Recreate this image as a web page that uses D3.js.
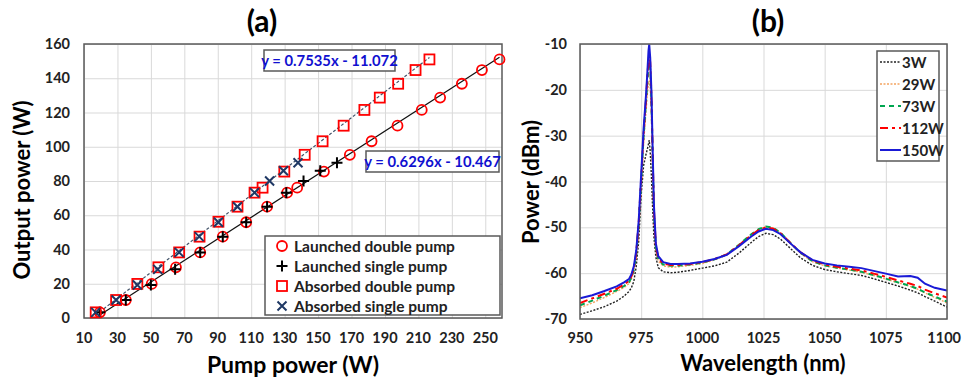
<!DOCTYPE html>
<html>
<head>
<meta charset="utf-8">
<script src="https://cdn.jsdelivr.net/npm/d3@7"></script>
<style>
  body { margin: 0; background: #fff; }
  svg text { font-family: Lato, "Open Sans", sans-serif; font-weight: bold; }
</style>
</head>
<body>
<div id="chart"></div>
<script>
// ---- panel (a): output power vs pump power ----
var pumpTicks = [10, 30, 50, 70, 90, 110, 130, 150, 170, 190, 210, 230, 250];
var outputTicks = [0, 20, 40, 60, 80, 100, 120, 140, 160];

var launchedDoubleX = [19.5, 35, 50.5, 65, 79.5, 93, 107, 119.5, 131.5, 137.5, 153.5, 169, 182, 197.5, 212, 223, 236, 248, 258.5];
var launchedDoubleY = [3.3, 10.5, 19.9, 29.6, 38.3, 47.5, 55.9, 65, 73.2, 76.1, 85.5, 95.3, 103.2, 112.3, 121.5, 128.7, 136.8, 144.8, 151];
var launchedSingleX = [19.5, 35, 50, 64.5, 79.5, 93, 107, 119.5, 131, 141.3, 151.3, 161.3];
var launchedSingleY = [3.3, 10.5, 19.3, 28.4, 38.3, 47.5, 55.9, 65, 73.2, 80, 86, 90.7];
var absorbedDoubleX = [17, 29.2, 41.9, 54.5, 66.9, 79.1, 90.4, 101.8, 112, 116.8, 129.8, 142, 152.7, 165.3, 177.7, 186.9, 197.9, 208.3, 216.6];
var absorbedDoubleY = [3.3, 10.5, 19.9, 29.6, 38.3, 47.5, 56.2, 65, 73.2, 76.1, 85.5, 95.3, 103.2, 112.3, 121.5, 128.7, 136.8, 144.8, 151];
var absorbedSingleX = [17, 29.2, 41.9, 54.1, 66.9, 78.9, 90.4, 101.8, 112, 121, 129.3, 138];
var absorbedSingleY = [3.3, 10.5, 19.3, 28.4, 38.3, 47.5, 55.9, 65, 73.2, 80, 86, 90.7];

var fitLaunched = { slope: 0.6296, intercept: -10.467 };
var fitAbsorbed = { slope: 0.7535, intercept: -11.072 };

var legendA = ['Launched double pump', 'Launched single pump', 'Absorbed double pump', 'Absorbed single pump'];

// ---- panel (b): spectra ----
var wavelengthTicks = [950, 975, 1000, 1025, 1050, 1075, 1100];
var dbmTicks = [-70, -60, -50, -40, -30, -20, -10];

var wavelength = [950, 955, 960, 965, 968, 970, 971, 972, 973, 974, 975, 976, 977, 977.5, 978, 978.3, 978.7, 979.2, 979.7, 980.2,
  981, 982, 984, 987, 990, 995, 1000, 1005, 1010, 1015, 1020, 1023, 1026, 1029, 1032, 1036, 1040, 1045, 1050, 1055,
  1060, 1065, 1070, 1075, 1080, 1085, 1088, 1091, 1095, 1100];

var spec3W = [-69.0, -68.2, -67.3, -66.1, -65.0, -64.0, -63.2, -61.8, -58.5, -53.0, -43.0, -36.5, -34.0, -33.0, -31.8, -31.0, -33.5, -39.0, -46.0, -52.0,
  -56.5, -58.8, -59.7, -59.9, -59.8, -59.4, -58.9, -58.4, -57.6, -55.6, -53.3, -52.0, -51.3, -51.6, -52.6, -54.6, -56.6, -58.3, -59.2, -59.7,
  -60.1, -60.5, -61.2, -62.0, -62.8, -63.7, -64.3, -65.1, -66.1, -67.4];
var spec29W = [-67.5, -66.5, -65.3, -64.0, -63.1, -62.3, -61.3, -59.6, -56.5, -50.0, -41.0, -31.5, -24.5, -21.0, -18.5, -18.0, -19.5, -25.5, -37.0, -47.5,
  -54.8, -57.4, -58.4, -58.7, -58.6, -58.3, -57.9, -57.1, -56.0, -53.9, -51.6, -50.5, -49.9, -50.2, -51.3, -53.5, -55.6, -57.5, -58.4, -58.9,
  -59.3, -59.8, -60.5, -61.3, -62.1, -62.9, -63.5, -64.3, -65.3, -66.5];
var spec73W = [-67.0, -66.0, -64.9, -63.7, -62.8, -62.0, -61.0, -59.3, -56.0, -49.5, -40.0, -30.0, -22.5, -18.5, -14.5, -14.0, -15.5, -22.5, -35.0, -46.5,
  -54.3, -57.0, -58.1, -58.4, -58.4, -58.1, -57.7, -57.0, -55.9, -53.8, -51.5, -50.4, -49.8, -50.1, -51.2, -53.4, -55.5, -57.4, -58.3, -58.8,
  -59.2, -59.7, -60.4, -61.2, -62.0, -62.8, -63.4, -64.2, -65.1, -66.2];
var spec112W = [-66.5, -65.5, -64.5, -63.4, -62.5, -61.7, -60.7, -59.0, -55.5, -49.0, -39.5, -29.5, -22.0, -17.5, -13.5, -12.5, -14.0, -21.5, -34.0, -46.0,
  -54.0, -56.8, -57.9, -58.2, -58.2, -58.0, -57.6, -56.9, -55.9, -53.9, -51.7, -50.6, -50.0, -50.3, -51.3, -53.4, -55.4, -57.2, -58.1, -58.6,
  -59.0, -59.4, -60.1, -60.8, -61.6, -62.3, -62.8, -63.6, -64.4, -65.3];
var spec150W = [-65.5, -64.8, -63.9, -62.9, -62.0, -61.3, -60.3, -58.5, -55.0, -48.5, -38.5, -28.5, -21.0, -16.5, -11.5, -10.1, -13.0, -20.5, -33.0, -45.0,
  -53.5, -56.3, -57.6, -58.0, -58.0, -57.9, -57.5, -56.9, -56.0, -54.1, -52.0, -50.9, -50.3, -50.6, -51.5, -53.5, -55.4, -57.1, -57.9, -58.3,
  -58.6, -58.9, -59.5, -60.1, -60.7, -60.6, -61.0, -62.3, -63.2, -63.8];

var spectraNames = ['3W', '29W', '73W', '112W', '150W'];

var svg = d3.select('#chart')
  .append('svg')
  .attr('width', 962)
  .attr('height', 379);

var gridColor = '#d9d9d9';
var frameColor = '#595959';

// ================= panel (a) =================
var xA = d3.scaleLinear().domain([10, 260]).range([84, 502]);
var yA = d3.scaleLinear().domain([0, 160]).range([318, 44]);

var gA = svg.append('g');

gA.append('g')
  .call(d3.axisBottom(xA).tickValues(pumpTicks).tickSize(-(318 - 44)).tickFormat(''))
  .attr('transform', 'translate(0,318)')
  .call(function (g) {
    g.select('.domain').remove();
    g.selectAll('line').attr('stroke', gridColor);
  });

gA.append('g')
  .call(d3.axisLeft(yA).tickValues(outputTicks).tickSize(-(502 - 84)).tickFormat(''))
  .attr('transform', 'translate(84,0)')
  .call(function (g) {
    g.select('.domain').remove();
    g.selectAll('line').attr('stroke', gridColor);
  });

gA.append('rect')
  .attr('x', 84).attr('y', 44)
  .attr('width', 502 - 84).attr('height', 318 - 44)
  .attr('fill', 'none')
  .attr('stroke', frameColor)
  .attr('stroke-width', 1.5);

gA.selectAll('.xlab')
  .data(pumpTicks)
  .enter()
  .append('text')
  .attr('x', function (d) { return xA(d); })
  .attr('y', 343)
  .attr('text-anchor', 'middle')
  .attr('font-size', 14.5)
  .attr('fill', '#222')
  .text(function (d) { return d; });

gA.selectAll('.ylab')
  .data(outputTicks)
  .enter()
  .append('text')
  .attr('x', 70)
  .attr('y', function (d) { return yA(d) + 5; })
  .attr('text-anchor', 'end')
  .attr('font-size', 14.5)
  .attr('fill', '#222')
  .text(function (d) { return d; });

gA.append('text')
  .attr('x', 262).attr('y', 32)
  .attr('text-anchor', 'middle')
  .attr('font-size', 30)
  .text('(a)');

gA.append('text')
  .attr('transform', 'translate(30,190) rotate(-90)')
  .attr('text-anchor', 'middle')
  .attr('font-size', 22)
  .text('Output power (W)');

gA.append('text')
  .attr('x', 293).attr('y', 373)
  .attr('text-anchor', 'middle')
  .attr('font-size', 23)
  .text('Pump power (W)');

// fit lines
var fitLine = function (fit, xs) {
  var ext = d3.extent(xs);
  return [[ext[0], fit.slope * ext[0] + fit.intercept], [ext[1], fit.slope * ext[1] + fit.intercept]];
};
var lineA = d3.line()
  .x(function (d) { return xA(d[0]); })
  .y(function (d) { return yA(d[1]); });

gA.append('path')
  .attr('d', lineA(fitLine(fitLaunched, launchedDoubleX)))
  .attr('stroke', '#111')
  .attr('stroke-width', 1.2)
  .attr('fill', 'none');

gA.append('path')
  .attr('d', lineA(fitLine(fitAbsorbed, absorbedDoubleX)))
  .attr('stroke', '#44546a')
  .attr('stroke-width', 1.2)
  .attr('stroke-dasharray', '3,2')
  .attr('fill', 'none');

var zip = function (xs, ys) {
  return xs.map(function (x, i) { return [x, ys[i]]; });
};

var drawCircle = function (g, x, y) {
  g.append('circle').attr('cx', x).attr('cy', y).attr('r', 5)
    .attr('fill', 'none').attr('stroke', '#ff0000').attr('stroke-width', 1.8);
};
var drawPlus = function (g, x, y) {
  g.append('path').attr('d', 'M' + (x - 5.5) + ',' + y + 'H' + (x + 5.5) + 'M' + x + ',' + (y - 5.5) + 'V' + (y + 5.5))
    .attr('stroke', '#000').attr('stroke-width', 2);
};
var drawSquare = function (g, x, y) {
  g.append('rect').attr('x', x - 5).attr('y', y - 5).attr('width', 10).attr('height', 10)
    .attr('fill', 'none').attr('stroke', '#ff0000').attr('stroke-width', 1.8);
};
var drawCross = function (g, x, y) {
  g.append('path').attr('d', 'M' + (x - 4.5) + ',' + (y - 4.5) + 'L' + (x + 4.5) + ',' + (y + 4.5) + 'M' + (x - 4.5) + ',' + (y + 4.5) + 'L' + (x + 4.5) + ',' + (y - 4.5))
    .attr('stroke', '#1f3864').attr('stroke-width', 2);
};

var seriesA = [
  { pts: zip(launchedDoubleX, launchedDoubleY), draw: drawCircle },
  { pts: zip(launchedSingleX, launchedSingleY), draw: drawPlus },
  { pts: zip(absorbedDoubleX, absorbedDoubleY), draw: drawSquare },
  { pts: zip(absorbedSingleX, absorbedSingleY), draw: drawCross }
];

seriesA.forEach(function (s) {
  var g = gA.append('g');
  s.pts.forEach(function (p) {
    s.draw(g, xA(p[0]), yA(p[1]));
  });
});

// equation boxes
var eqBox = function (x, y, w, txt) {
  gA.append('rect').attr('x', x).attr('y', y).attr('width', w).attr('height', 21)
    .attr('fill', '#fff').attr('stroke', frameColor).attr('stroke-width', 1.5);
  gA.append('text').attr('x', x + w / 2).attr('y', y + 15.5)
    .attr('text-anchor', 'middle').attr('font-size', 14.8).attr('fill', '#1010d0')
    .text(txt);
};
eqBox(264, 50, 131, 'y = ' + fitAbsorbed.slope + 'x - ' + Math.abs(fitAbsorbed.intercept));
eqBox(366, 151, 133, 'y = ' + fitLaunched.slope + 'x - ' + Math.abs(fitLaunched.intercept));

// legend (a)
var legA = gA.append('g');
legA.append('rect').attr('x', 265).attr('y', 236).attr('width', 235).attr('height', 79)
  .attr('fill', '#fff').attr('stroke', frameColor).attr('stroke-width', 1.5);
legendA.forEach(function (name, i) {
  var yy = 246 + i * 20;
  seriesA[i].draw(legA, 282, yy);
  legA.append('text').attr('x', 294).attr('y', yy + 5.5)
    .attr('font-size', 15.5).attr('fill', '#222').text(name);
});

// ================= panel (b) =================
var xB = d3.scaleLinear().domain([950, 1100]).range([580, 947]);
var yB = d3.scaleLinear().domain([-70, -10]).range([319, 44]);

var gB = svg.append('g');

gB.append('g')
  .call(d3.axisBottom(xB).tickValues(wavelengthTicks).tickSize(-(319 - 44)).tickFormat(''))
  .attr('transform', 'translate(0,319)')
  .call(function (g) {
    g.select('.domain').remove();
    g.selectAll('line').attr('stroke', gridColor);
  });

gB.append('g')
  .call(d3.axisLeft(yB).tickValues(dbmTicks).tickSize(-(947 - 580)).tickFormat(''))
  .attr('transform', 'translate(580,0)')
  .call(function (g) {
    g.select('.domain').remove();
    g.selectAll('line').attr('stroke', gridColor);
  });

var lastWl = wavelengthTicks[wavelengthTicks.length - 1];
gB.selectAll('.xlab')
  .data(wavelengthTicks)
  .enter()
  .append('text')
  .attr('x', function (d) { return d === lastWl ? 961 : xB(d); })
  .attr('y', 343)
  .attr('text-anchor', function (d) { return d === lastWl ? 'end' : 'middle'; })
  .attr('font-size', 14.5)
  .attr('fill', '#222')
  .text(function (d) { return d; });

gB.selectAll('.ylab')
  .data(dbmTicks)
  .enter()
  .append('text')
  .attr('x', 567)
  .attr('y', function (d) { return yB(d) + 5; })
  .attr('text-anchor', 'end')
  .attr('font-size', 14.5)
  .attr('fill', '#222')
  .text(function (d) { return d; });

gB.append('text')
  .attr('x', 768).attr('y', 32)
  .attr('text-anchor', 'middle')
  .attr('font-size', 30)
  .text('(b)');

gB.append('text')
  .attr('transform', 'translate(539,182) rotate(-90)')
  .attr('text-anchor', 'middle')
  .attr('font-size', 22)
  .text('Power (dBm)');

gB.append('text')
  .attr('x', 763).attr('y', 371)
  .attr('text-anchor', 'middle')
  .attr('font-size', 22)
  .text('Wavelength (nm)');

var spectra = [
  { name: spectraNames[0], values: spec3W, color: '#222222', dash: '2,1.5', width: 1.4 },
  { name: spectraNames[1], values: spec29W, color: '#f4a460', dash: '2,1.5', width: 1.4 },
  { name: spectraNames[2], values: spec73W, color: '#00a550', dash: '5,4', width: 2 },
  { name: spectraNames[3], values: spec112W, color: '#ff0000', dash: '8,4,3,4', width: 2 },
  { name: spectraNames[4], values: spec150W, color: '#1a1ad6', dash: null, width: 2 }
];

var lineB = d3.line()
  .x(function (d, i) { return xB(wavelength[i]); })
  .y(function (d) { return yB(d); });

var clip = gB.append('clipPath').attr('id', 'clipB');
clip.append('rect').attr('x', 580).attr('y', 44).attr('width', 367).attr('height', 275);

spectra.forEach(function (s) {
  gB.append('path')
    .attr('clip-path', 'url(#clipB)')
    .attr('d', lineB(s.values))
    .attr('fill', 'none')
    .attr('stroke', s.color)
    .attr('stroke-width', s.width)
    .attr('stroke-dasharray', s.dash);
});

gB.append('rect')
  .attr('x', 580).attr('y', 44)
  .attr('width', 947 - 580).attr('height', 319 - 44)
  .attr('fill', 'none')
  .attr('stroke', frameColor)
  .attr('stroke-width', 1.5);

// legend (b)
var legB = gB.append('g');
legB.append('rect').attr('x', 877).attr('y', 51).attr('width', 62).attr('height', 110)
  .attr('fill', '#fff').attr('stroke', frameColor).attr('stroke-width', 1.5);
spectra.forEach(function (s, i) {
  var yy = 62 + i * 22;
  legB.append('line').attr('x1', 880).attr('x2', 901).attr('y1', yy).attr('y2', yy)
    .attr('stroke', s.color).attr('stroke-width', s.width).attr('stroke-dasharray', s.dash);
  legB.append('text').attr('x', 902).attr('y', yy + 5.5)
    .attr('font-size', 15).attr('fill', '#222').text(s.name);
});
</script>
</body>
</html>
